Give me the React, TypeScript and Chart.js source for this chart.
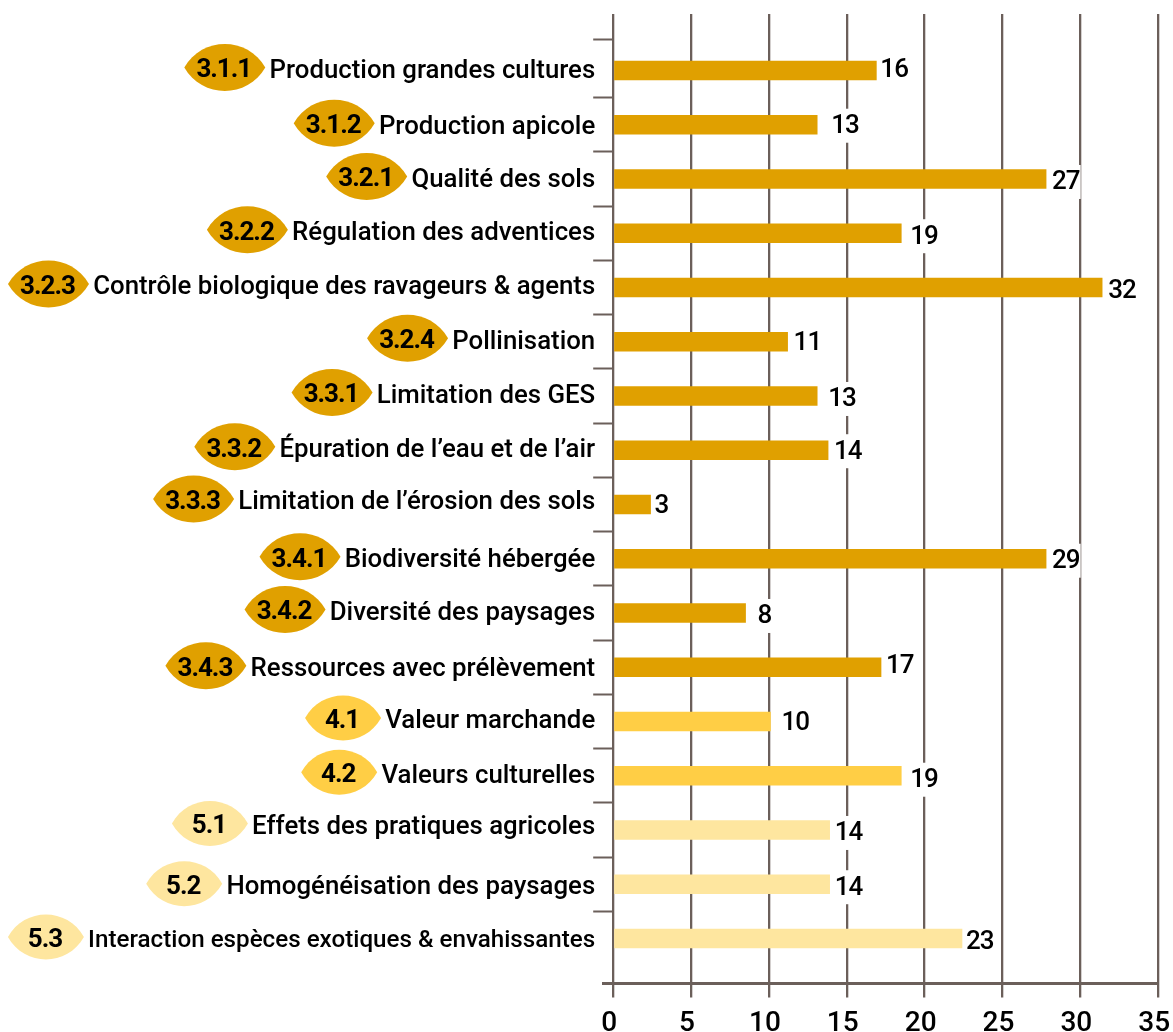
import React, { useEffect, useRef } from "react";
import { Chart, registerables } from "chart.js";

Chart.register(...registerables);

const badgeIds = ["3.1.1", "3.1.2", "3.2.1", "3.2.2", "3.2.3", "3.2.4", "3.3.1", "3.3.2", "3.3.3", "3.4.1", "3.4.2", "3.4.3", "4.1", "4.2", "5.1", "5.2", "5.3"];
const categories = [
  "Production grandes cultures",
  "Production apicole",
  "Qualité des sols",
  "Régulation des adventices",
  "Contrôle biologique des ravageurs & agents",
  "Pollinisation",
  "Limitation des GES",
  "Épuration de l’eau et de l’air",
  "Limitation de l’érosion des sols",
  "Biodiversité hébergée",
  "Diversité des paysages",
  "Ressources avec prélèvement",
  "Valeur marchande",
  "Valeurs culturelles",
  "Effets des pratiques agricoles",
  "Homogénéisation des paysages",
  "Interaction espèces exotiques & envahissantes",
];
// Printed numbers, and bar lengths as actually drawn in the picture (they differ slightly).
const printedValues = [16, 13, 27, 19, 32, 11, 13, 14, 3, 29, 8, 17, 10, 19, 14, 14, 23];
const barLengths = [16.9, 13.1, 27.8, 18.5, 31.4, 11.2, 13.1, 13.8, 2.4, 27.8, 8.5, 17.2, 10.1, 18.5, 13.9, 13.9, 22.4];
const xTickValues = [0, 5, 10, 15, 20, 25, 30, 35];

const AMBER = "#e0a000";
const YELLOW = "#ffce45";
const PALE = "#fee69f";
const LINE = "#6b5f5a";
const groupColor = (id: string) => (id[0] === "3" ? AMBER : id[0] === "4" ? YELLOW : PALE);

const SPACING = 54.25;
// hand-placed text in the original: small per-row offsets, in pixels
const categoryNudge = [-1.5, 0, -1, -2, -2, -2, -2, -2, -4, -0.5, -2, 0, -2, -2, -5, 1, 0];
const valueGap = [4, 14, 6, 9, 6, 6, 11, 6, 4, 6, 12, 5, 11, 9, 5, 5, 4];
const valueNudge = [-2, 0, 2, 2, 2, 0, 2, 0, 0, 1, 2, -3, 0, 3, 2, 2, 2];
const TEXT_DROP = 2.5; // canvas "middle" sits above the visual centre of the glyphs

const labelSize = (c: string) => (c.startsWith("Interaction") ? 24.2 : 25.8);
const labelFont = (c: string) => `500 ${labelSize(c)}px Roboto`;
const BADGE_FONT = "700 26px Roboto";
const VALUE_FONT = "500 26px Roboto";

const labelByTick = new Map<number, string>();
categories.forEach((c, i) => labelByTick.set(i + (categoryNudge[i] + TEXT_DROP) / SPACING, c));

const tickMarks = [-0.562, ...categories.slice(0, -1).map((_, i) => i + 0.5)];

const decorations = {
  id: "decorations",
  afterDatasetsDraw(chart: any) {
    const { ctx, scales } = chart;
    ctx.save();
    ctx.font = VALUE_FONT;
    ctx.letterSpacing = "-1px";
    ctx.textBaseline = "middle";
    ctx.textAlign = "left";
    printedValues.forEach((v, i) => {
      const x = scales.x.getPixelForValue(barLengths[i]) + valueGap[i];
      const y = scales.y.getPixelForValue(i) + valueNudge[i];
      const w = ctx.measureText(String(v)).width;
      ctx.fillStyle = "#ffffff";
      ctx.fillRect(x - 1, y - 16, w + 2, 34);
      ctx.fillStyle = "#000000";
      ctx.fillText(String(v), x, y + TEXT_DROP - 0.5);
    });
    ctx.restore();
  },
  afterDraw(chart: any) {
    const { ctx, scales, chartArea } = chart;
    ctx.save();
    // the bottom axis line reaches a little left of the vertical axis
    ctx.strokeStyle = LINE;
    ctx.lineWidth = 3;
    ctx.beginPath();
    ctx.moveTo(602, chartArea.bottom);
    ctx.lineTo(chartArea.left, chartArea.bottom);
    ctx.stroke();
    // lens-shaped badges, placed just left of each label
    badgeIds.forEach((id, i) => {
      ctx.letterSpacing = "0px";
      ctx.font = labelFont(categories[i]);
      const textLeft = 596 - ctx.measureText(categories[i]).width;
      const w = id.length > 3 ? 81 : 76;
      const h = id.length > 3 ? 23.5 : 22.5;
      const right = textLeft - 5;
      const left = right - w;
      const cy = scales.y.getPixelForValue(i) + categoryNudge[i] - 1.5;
      const mid = (left + right) / 2;
      ctx.fillStyle = groupColor(id);
      ctx.beginPath();
      ctx.moveTo(left, cy);
      ctx.bezierCurveTo(left + w * 0.22, cy - h * 1.33, right - w * 0.22, cy - h * 1.33, right, cy);
      ctx.bezierCurveTo(right - w * 0.22, cy + h * 1.33, left + w * 0.22, cy + h * 1.33, left, cy);
      ctx.closePath();
      ctx.fill();
      ctx.font = BADGE_FONT;
      ctx.letterSpacing = "-1px";
      ctx.fillStyle = "#000000";
      ctx.textAlign = "center";
      ctx.textBaseline = "middle";
      ctx.fillText(id, mid - 1, cy + 3.5);
    });
    ctx.restore();
  },
};

export default function App() {
  const ref = useRef<HTMLCanvasElement>(null);
  useEffect(() => {
    document.body.style.margin = "0";
    const chart = new Chart(ref.current as HTMLCanvasElement, {
      type: "bar",
      data: {
        datasets: [
          {
            data: barLengths.map((v, i) => ({ x: v, y: i })),
            backgroundColor: badgeIds.map(groupColor),
            barThickness: 19,
            base: 0.08,
            borderWidth: 0,
          } as any,
        ],
      },
      plugins: [decorations],
      options: {
        indexAxis: "y",
        animation: false,
        responsive: false,
        maintainAspectRatio: false,
        layout: { padding: { top: 14, right: 14.8, left: 0, bottom: 0 } },
        plugins: { legend: { display: false }, tooltip: { enabled: false } },
        scales: {
          x: {
            type: "linear",
            position: "bottom",
            min: 0,
            max: 35,
            afterBuildTicks: (s: any) => {
              s.ticks = xTickValues.map((value) => ({ value }));
            },
            afterFit: (s: any) => {
              s.height = 48.5;
              s.paddingLeft = 0;
              s.paddingRight = 0;
            },
            grid: { color: LINE, lineWidth: 2.3, tickLength: 14, tickColor: LINE, tickWidth: 2.3 },
            border: { display: true, color: LINE, width: 3 },
            ticks: {
              color: "#000000",
              font: { family: "Roboto", size: 28, weight: "500" },
              padding: 10,
              labelOffset: -4,
              maxRotation: 0,
              autoSkip: false,
            },
          },
          y: {
            type: "linear",
            reverse: true,
            offset: false,
            min: -1.041,
            max: 16.83,
            afterBuildTicks: (s: any) => {
              const values = [...tickMarks, ...Array.from(labelByTick.keys())].sort((a, b) => a - b);
              s.ticks = values.map((value) => ({ value }));
            },
            afterFit: (s: any) => {
              s.width = 613.2;
              s.paddingTop = 0;
              s.paddingBottom = 0;
            },
            grid: {
              offset: false,
              drawOnChartArea: false,
              tickLength: 20,
              tickWidth: 2,
              tickColor: (ctx: any) => (labelByTick.has(ctx.tick?.value) ? "rgba(0,0,0,0)" : LINE),
            },
            border: { display: false },
            ticks: {
              color: "#000000",
              font: (ctx: any) => ({
                family: "Roboto",
                size: labelSize(labelByTick.get(ctx.tick?.value) ?? ""),
                weight: "500",
              }),
              padding: -2,
              autoSkip: false,
              callback: (v: any) => labelByTick.get(v) ?? "",
            },
          },
        },
      } as any,
    });
    return () => chart.destroy();
  }, []);
  return (
    <div style={{ position: "absolute", left: 0, top: 0, width: 1173, height: 1032, background: "#ffffff" }}>
      <canvas ref={ref} width={1173} height={1032} style={{ display: "block" }} />
    </div>
  );
}
